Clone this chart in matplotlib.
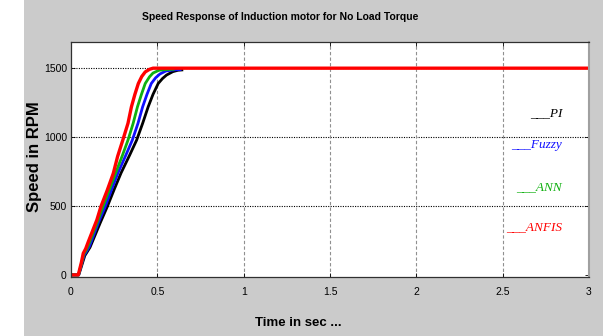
import matplotlib.pyplot as plt
from matplotlib.patches import Rectangle

# speed response data (time in s, speed in rpm)
t_pi = [0, 0.045, 0.065, 0.08, 0.095, 0.11, 0.13, 0.17, 0.21, 0.25, 0.29, 0.34, 0.38,
        0.415, 0.447, 0.475, 0.505, 0.53, 0.553, 0.59, 0.62, 0.65]
w_pi = [0, 0, 80, 140, 170, 200, 260, 380, 495, 620, 740, 870, 978,
        1100, 1220, 1310, 1389, 1425, 1450, 1475, 1485, 1488]

t_fuzzy = [0, 0.044, 0.063, 0.077, 0.092, 0.106, 0.126, 0.162, 0.198, 0.235, 0.272, 0.318, 0.355,
           0.388, 0.415, 0.44, 0.465, 0.49, 0.515, 0.55, 0.6, 0.64]
w_fuzzy = [0, 0, 85, 145, 175, 205, 270, 390, 495, 620, 740, 870, 978,
           1100, 1220, 1310, 1389, 1430, 1458, 1480, 1488, 1490]

t_ann = [0, 0.043, 0.062, 0.074, 0.089, 0.103, 0.123, 0.156, 0.185, 0.222, 0.258, 0.297, 0.33,
         0.36, 0.385, 0.408, 0.43, 0.455, 0.475, 0.51, 0.56, 0.6]
w_ann = [0, 0, 88, 150, 182, 222, 287, 395, 495, 617, 738, 865, 978,
         1100, 1220, 1310, 1389, 1438, 1465, 1485, 1491, 1492]

t_anfis = [0, 0.042, 0.06, 0.071, 0.085, 0.1, 0.12, 0.15, 0.173, 0.21, 0.245, 0.27, 0.30,
           0.33, 0.35, 0.37, 0.39, 0.41, 0.43, 0.455, 0.475, 0.5, 3.0]
w_anfis = [0, 0, 90, 157, 190, 240, 304, 400, 495, 615, 737, 860, 978,
           1100, 1220, 1310, 1389, 1440, 1473, 1492, 1500, 1500, 1500]

labels = ['PI', 'Fuzzy', 'ANN', 'ANFIS']
colors = ['black', '#1010ff', '#10b010', 'red']
x_ticks = [0, 0.5, 1, 1.5, 2, 2.5, 3]
x_ticklabels = ['0', '0.5', '1', '1.5', '2', '2.5', '3']
y_ticks = [0, 500, 1000, 1500]

narrow = ['Liberation Sans Narrow', 'Liberation Sans', 'DejaVu Sans']

fig = plt.figure(figsize=(6.16, 3.36), dpi=100, facecolor='white')
fig.patches.append(Rectangle((24 / 616, 0), (603 - 24) / 616, 1, transform=fig.transFigure,
                             facecolor='#cbcbcb', edgecolor='none', zorder=-10))
ax = fig.add_axes([71 / 616, 1 - 277 / 336, (589 - 71) / 616, (277 - 42) / 336])
ax.set_facecolor('white')

series = [(t_pi, w_pi), (t_fuzzy, w_fuzzy), (t_ann, w_ann), (t_anfis, w_anfis)]
widths = [2.0, 2.0, 2.0, 2.4]
for (t, w), c, lw in zip(series, colors, widths):
    ax.plot(t, w, color=c, lw=lw, solid_capstyle='butt')

ax.set_xlim(0, 3)
ax.set_ylim(-15, 1690)
ax.set_xticks(x_ticks)
ax.set_xticklabels(x_ticklabels)
ax.set_yticks(y_ticks)
for lab in ax.get_xticklabels() + ax.get_yticklabels():
    lab.set_family(narrow)
    lab.set_fontsize(7.5)
ax.tick_params(direction='in', length=3, width=0.6, top=True, right=True)
ax.tick_params(axis='x', pad=7)
ax.tick_params(axis='y', pad=3)

# grid: dotted rows, dashed grey columns
for yv in y_ticks[1:]:
    ax.axhline(yv, color='black', lw=0.8, ls=(0, (1, 1.2)), zorder=0)
for xv in x_ticks[1:-1]:
    ax.axvline(xv, color='#909090', lw=0.8, ls=(0, (3, 2)), zorder=0)

for s in ax.spines.values():
    s.set_color('#303030')
    s.set_linewidth(0.9)
ax.spines['right'].set_color('#a0a0a0')
ax.spines['right'].set_linewidth(1.5)

fig.text(280 / 616, 1 - 17 / 336, 'Speed Response of Induction motor for No Load Torque',
         ha='center', va='center', fontsize=7.5, family=narrow, weight='bold')
fig.text(298 / 616, 1 - 323 / 336, 'Time in sec ...', ha='center', va='center',
         fontsize=9.5, family=narrow, weight='bold')
fig.text(35 / 616, 1 - 157 / 336, 'Speed in RPM', ha='center', va='center', rotation=90,
         fontsize=12, family=['Liberation Sans', 'DejaVu Sans'], weight='bold')

# legend written as coloured text labels
leg_y = [113, 145, 187, 227]
for lab, c, yy in zip(labels, colors, leg_y):
    fig.text(562 / 616, 1 - yy / 336, '___' + lab, ha='right', va='center', color=c,
             fontsize=9.5, family=['Liberation Serif', 'DejaVu Serif'], style='italic')

fig.savefig('out.png', dpi=100, facecolor=fig.get_facecolor())
